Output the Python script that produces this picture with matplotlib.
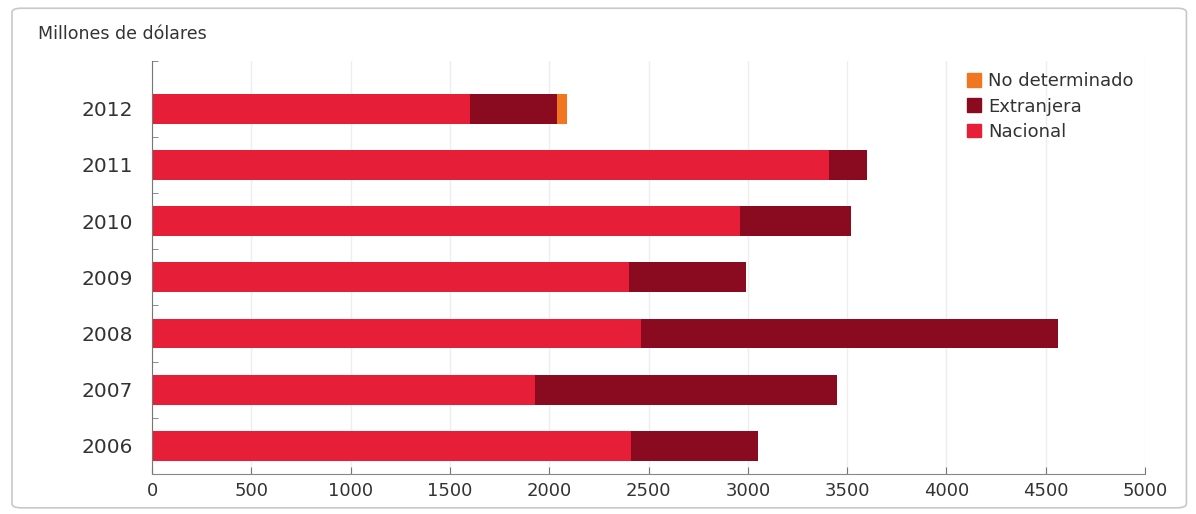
import matplotlib
matplotlib.use("Agg")
import matplotlib.pyplot as plt
from matplotlib.patches import FancyBboxPatch, Patch
import numpy as np

# datos (millones de dólares)
anios = ["2006", "2007", "2008", "2009", "2010", "2011", "2012"]
nacional = [2410, 1930, 2460, 2400, 2960, 3410, 1600]
extranjera = [640, 1520, 2100, 590, 560, 190, 440]
no_determinado = [0, 0, 0, 0, 0, 0, 50]

C_NAC = "#e61e37"; C_EXT = "#8a0b1f"; C_ND = "#f0761f"

plt.rcParams["font.family"] = ["DejaVu Sans"]
fig = plt.figure(figsize=(11.96, 5.14), dpi=100)
fig.patches.append(FancyBboxPatch((0.010, 0.012), 0.982, 0.972,
                                  boxstyle="round,pad=0,rounding_size=0.008",
                                  transform=fig.transFigure, facecolor="none",
                                  edgecolor="#c8c8c8", lw=1.2, zorder=-1))
ax = fig.add_axes([0.1271, 0.0778, 0.8303, 0.8035])
ax.set_facecolor("none")

y = np.arange(len(anios))
h = 0.53
left2 = np.array(nacional)
left3 = left2 + np.array(extranjera)
ax.barh(y, nacional, height=h, color=C_NAC, zorder=2)
ax.barh(y, extranjera, left=left2, height=h, color=C_EXT, zorder=2)
ax.barh(y, no_determinado, left=left3, height=h, color=C_ND, zorder=2)

ax.set_xlim(0, 5000)
ax.set_ylim(-0.5, 6.85)
ax.set_xticks(range(0, 5001, 500))
ax.set_yticks(y)
ax.set_yticklabels(anios, fontsize=14.5, color="#333333")
ax.set_yticks(list(np.arange(0.5, 6, 1.0)) + [6.85], minor=True)
ax.tick_params(axis="y", which="major", length=0, pad=14)
ax.tick_params(axis="y", which="minor", length=4, direction="in", color="#777777")
ax.tick_params(axis="x", length=5, direction="in", color="#777777",
               labelsize=13, labelcolor="#333333", pad=6)
ax.grid(axis="x", color="#eeeeee", lw=1, zorder=0)
for s in ["top", "right"]:
    ax.spines[s].set_visible(False)
ax.spines["left"].set_color("#777777")
ax.spines["bottom"].set_color("#888888")

fig.text(0.032, 0.925, "Millones de dólares", fontsize=12.5, color="#333333")

handles = [Patch(color=C_ND, label="No determinado"),
           Patch(color=C_EXT, label="Extranjera"),
           Patch(color=C_NAC, label="Nacional")]
leg = ax.legend(handles=handles, loc="upper right", bbox_to_anchor=(1.005, 1.012),
                frameon=False, fontsize=13, handlelength=0.8, handleheight=0.8,
                handletextpad=0.4, labelspacing=0.4)
for t in leg.get_texts():
    t.set_color("#333333")

fig.savefig("out.png", dpi=100)
